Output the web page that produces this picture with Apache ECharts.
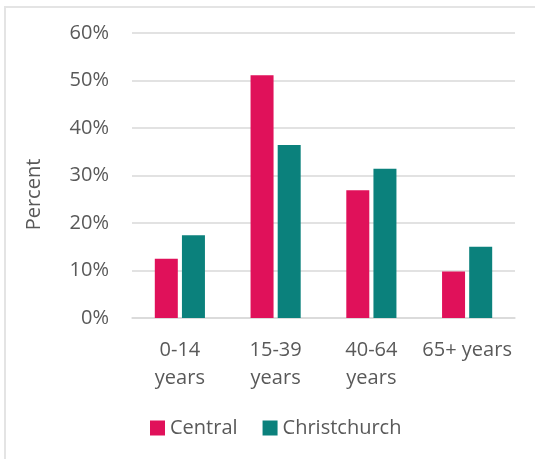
<!DOCTYPE html>
<html>
<head>
<meta charset="utf-8">
<title>Age groups: Central vs Christchurch</title>
<script src="https://cdn.jsdelivr.net/npm/echarts@6/dist/echarts.min.js"></script>
<style>
  html, body { margin: 0; padding: 0; background: #ffffff; }
  #frame {
    position: absolute; left: 4px; top: 6px; right: 0; bottom: 0;
    border-left: 2px solid #e4e4e4; border-top: 2px solid #e4e4e4;
    pointer-events: none;
  }
  #chart { position: absolute; left: 0; top: 0; width: 535px; height: 459px; }
</style>
</head>
<body>
<div id="frame"></div>
<div id="chart"></div>
<script>
// Age-group shares (percent of population)
const categories = ['0-14\nyears', '15-39\nyears', '40-64\nyears', '65+ years'];
const centralValues = [12.5, 51.1, 26.9, 9.8];
const christchurchValues = [17.4, 36.4, 31.4, 15.0];
const seriesNames = ['Central', 'Christchurch'];
const yTicks = [0, 10, 20, 30, 40, 50, 60];

const textColor = '#595959';
const fontFamily = '"Open Sans", "Noto Sans", sans-serif';

const chart = echarts.init(document.getElementById('chart'), null, { renderer: 'canvas' });

chart.setOption({
  animation: false,
  backgroundColor: 'transparent',
  textStyle: { fontFamily: fontFamily, color: textColor },
  grid: { left: 132, right: 20, top: 33, bottom: 141, containLabel: false },
  legend: {
    data: seriesNames,
    left: 150,
    top: 418,
    padding: 0,
    icon: 'rect',
    itemWidth: 15,
    itemHeight: 15,
    itemGap: 25,
    textStyle: { fontSize: 20, color: textColor, fontFamily: fontFamily }
  },
  xAxis: {
    type: 'category',
    data: categories,
    axisLine: { show: true, lineStyle: { color: '#d9d9d9', width: 1.5 } },
    axisTick: { show: false },
    axisLabel: {
      interval: 0,
      margin: 18,
      fontSize: 20,
      lineHeight: 28,
      color: textColor,
      fontFamily: fontFamily
    }
  },
  yAxis: {
    type: 'value',
    min: yTicks[0],
    max: yTicks[yTicks.length - 1],
    interval: 10,
    name: 'Percent',
    nameLocation: 'middle',
    nameGap: 88,
    nameRotate: 90,
    nameTextStyle: { fontSize: 20, color: textColor, fontFamily: fontFamily, padding: [0, 38, 0, 0] },
    axisLine: { show: false },
    axisTick: { show: false },
    splitLine: { lineStyle: { color: '#d9d9d9', width: 1.5 } },
    axisLabel: {
      margin: 23,
      fontSize: 20,
      color: textColor,
      fontFamily: fontFamily,
      formatter: v => v + '%'
    }
  },
  series: [
    {
      name: seriesNames[0],
      type: 'bar',
      data: centralValues,
      barWidth: 23,
      barGap: '18%',
      itemStyle: { color: '#e0115a' }
    },
    {
      name: seriesNames[1],
      type: 'bar',
      data: christchurchValues,
      barWidth: 23,
      itemStyle: { color: '#0b817c' }
    }
  ]
});
</script>
</body>
</html>
